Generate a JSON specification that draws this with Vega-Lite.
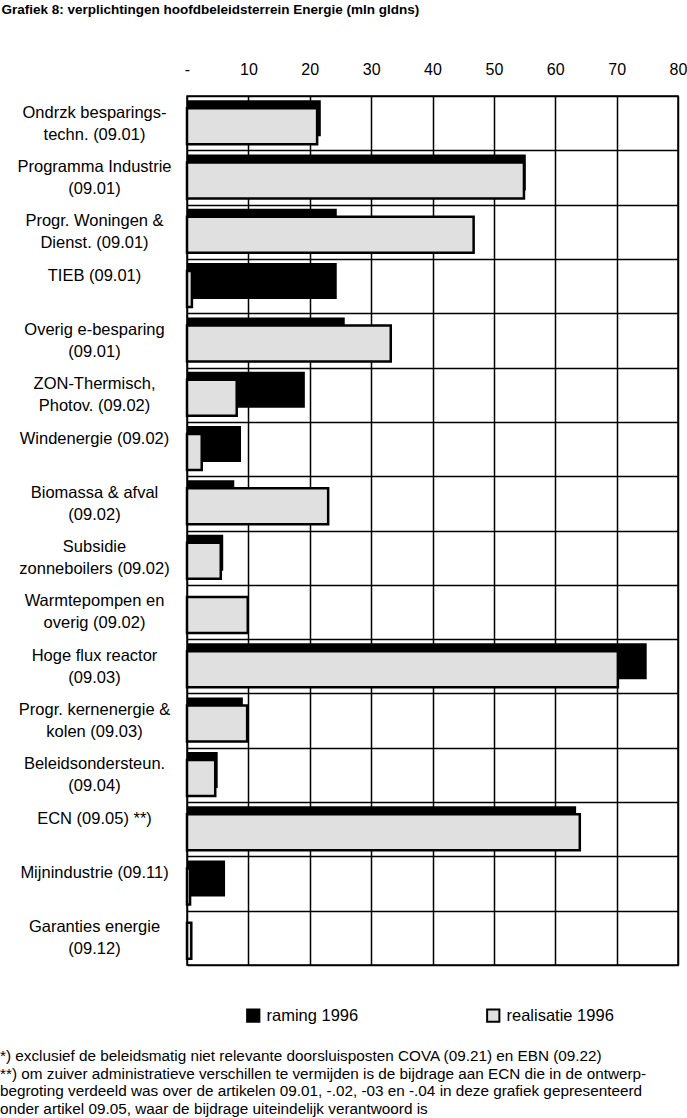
{
  "$schema": "https://vega.github.io/schema/vega-lite/v6.json",
  "width": 491,
  "height": 869,
  "autosize": {"type": "none"},
  "padding": {"left": 187, "top": 96, "right": 9, "bottom": 153},
  "title": {
    "text": [
      "*) exclusief de beleidsmatig niet relevante doorsluisposten COVA (09.21) en EBN (09.22)",
      "**) om zuiver administratieve verschillen te vermijden is de bijdrage aan ECN die in de ontwerp-",
      "begroting verdeeld was over de artikelen 09.01, -.02, -03 en -.04 in deze grafiek gepresenteerd",
      "onder artikel 09.05, waar de bijdrage uiteindelijk verantwoord is"
    ],
    "orient": "bottom",
    "anchor": "start",
    "frame": "group",
    "dx": -187,
    "offset": 23,
    "font": "Liberation Sans",
    "fontSize": 15.3,
    "fontWeight": "normal",
    "lineHeight": 17.6,
    "color": "black"
  },
  "data": {
    "values": [
      {"cat": "Ondrzk besparings-\ntechn.  (09.01)", "series": "raming 1996", "value": 21.8},
      {"cat": "Ondrzk besparings-\ntechn.  (09.01)", "series": "realisatie 1996", "value": 21.2},
      {"cat": "Programma Industrie\n(09.01)", "series": "raming 1996", "value": 55.2},
      {"cat": "Programma Industrie\n(09.01)", "series": "realisatie 1996", "value": 54.9},
      {"cat": "Progr. Woningen &\nDienst. (09.01)", "series": "raming 1996", "value": 24.4},
      {"cat": "Progr. Woningen &\nDienst. (09.01)", "series": "realisatie 1996", "value": 46.7},
      {"cat": "TIEB (09.01)", "series": "raming 1996", "value": 24.4},
      {"cat": "TIEB (09.01)", "series": "realisatie 1996", "value": 0.8},
      {"cat": "Overig e-besparing\n(09.01)", "series": "raming 1996", "value": 25.7},
      {"cat": "Overig e-besparing\n(09.01)", "series": "realisatie 1996", "value": 33.2},
      {"cat": "ZON-Thermisch,\nPhotov. (09.02)", "series": "raming 1996", "value": 19.2},
      {"cat": "ZON-Thermisch,\nPhotov. (09.02)", "series": "realisatie 1996", "value": 8.1},
      {"cat": "Windenergie (09.02)", "series": "raming 1996", "value": 8.8},
      {"cat": "Windenergie (09.02)", "series": "realisatie 1996", "value": 2.4},
      {"cat": "Biomassa & afval\n(09.02)", "series": "raming 1996", "value": 7.7},
      {"cat": "Biomassa & afval\n(09.02)", "series": "realisatie 1996", "value": 23.0},
      {"cat": "Subsidie\nzonneboilers (09.02)", "series": "raming 1996", "value": 5.9},
      {"cat": "Subsidie\nzonneboilers (09.02)", "series": "realisatie 1996", "value": 5.5},
      {"cat": "Warmtepompen en\noverig (09.02)", "series": "raming 1996", "value": 0},
      {"cat": "Warmtepompen en\noverig (09.02)", "series": "realisatie 1996", "value": 9.9},
      {"cat": "Hoge flux reactor\n(09.03)", "series": "raming 1996", "value": 74.9},
      {"cat": "Hoge flux reactor\n(09.03)", "series": "realisatie 1996", "value": 70.2},
      {"cat": "Progr. kernenergie &\nkolen (09.03)", "series": "raming 1996", "value": 9.1},
      {"cat": "Progr. kernenergie &\nkolen (09.03)", "series": "realisatie 1996", "value": 9.8},
      {"cat": "Beleidsondersteun.\n(09.04)", "series": "raming 1996", "value": 5.0},
      {"cat": "Beleidsondersteun.\n(09.04)", "series": "realisatie 1996", "value": 4.6},
      {"cat": "ECN (09.05) **)", "series": "raming 1996", "value": 63.4},
      {"cat": "ECN (09.05) **)", "series": "realisatie 1996", "value": 64.0},
      {"cat": "Mijnindustrie (09.11)", "series": "raming 1996", "value": 6.2},
      {"cat": "Mijnindustrie (09.11)", "series": "realisatie 1996", "value": 0.5},
      {"cat": "Garanties energie\n(09.12)", "series": "raming 1996", "value": 0},
      {"cat": "Garanties energie\n(09.12)", "series": "realisatie 1996", "value": 0.7}
    ]
  },
  "encoding": {
    "y": {
      "field": "cat",
      "type": "nominal",
      "sort": null,
      "scale": {"paddingInner": 0, "paddingOuter": 0},
      "axis": {
        "title": null,
        "orient": "left",
        "domain": false,
        "ticks": false,
        "tickSize": 0,
        "tickBand": "extent",
        "grid": true,
        "gridColor": "black",
        "gridWidth": 1.5,
        "gridOpacity": 1,
        "labelExpr": "split(datum.label, '\\n')",
        "labelFont": "Liberation Sans",
        "labelFontSize": 16.5,
        "labelColor": "black",
        "labelLineHeight": 22,
        "labelBaseline": "line-bottom",
        "labelAlign": "center",
        "labelLimit": 300,
        "labelPadding": 93
      }
    },
    "x": {
      "field": "value",
      "type": "quantitative",
      "scale": {"domain": [0, 80], "nice": false},
      "axis": {
        "orient": "top",
        "title": "Grafiek 8: verplichtingen hoofdbeleidsterrein Energie (mln gldns)",
        "titleFont": "Liberation Sans",
        "titleFontSize": 13.5,
        "titleFontWeight": "bold",
        "titleColor": "black",
        "titleAnchor": "start",
        "titleAlign": "left",
        "titleBaseline": "alphabetic",
        "titleX": -186,
        "titleY": -83,
        "values": [0, 10, 20, 30, 40, 50, 60, 70, 80],
        "labelExpr": "datum.value == 0 ? '-' : datum.label",
        "labelFont": "Liberation Sans",
        "labelFontSize": 16,
        "labelColor": "black",
        "labelPadding": 19,
        "labelFlush": false,
        "labelOverlap": false,
        "domain": false,
        "ticks": false,
        "tickSize": 0,
        "grid": true,
        "gridColor": "black",
        "gridWidth": 1.5,
        "gridOpacity": 1
      }
    },
    "fill": {
      "field": "series",
      "type": "nominal",
      "scale": {"domain": ["raming 1996", "realisatie 1996"], "range": ["#000000", "#e0e0e0"]},
      "legend": {
        "title": null,
        "orient": "none",
        "legendX": 58,
        "legendY": 911,
        "direction": "horizontal",
        "padding": 0,
        "symbolType": "square",
        "symbolSize": 150,
        "symbolStrokeColor": "black",
        "symbolStrokeWidth": 2,
        "labelFont": "Liberation Sans",
        "labelFontSize": 16.5,
        "labelColor": "black",
        "labelOffset": 5,
        "columnPadding": 124
      }
    }
  },
  "layer": [
    {
      "transform": [{"filter": "datum.series == 'raming 1996'"}],
      "mark": {"type": "bar", "height": 36, "yOffset": -5}
    },
    {
      "transform": [{"filter": "datum.series == 'realisatie 1996'"}],
      "mark": {"type": "bar", "height": 36, "yOffset": 3, "stroke": "black", "strokeWidth": 2.5}
    }
  ],
  "config": {
    "view": {"stroke": "black", "strokeWidth": 1.5},
    "font": "Liberation Sans"
  }
}
